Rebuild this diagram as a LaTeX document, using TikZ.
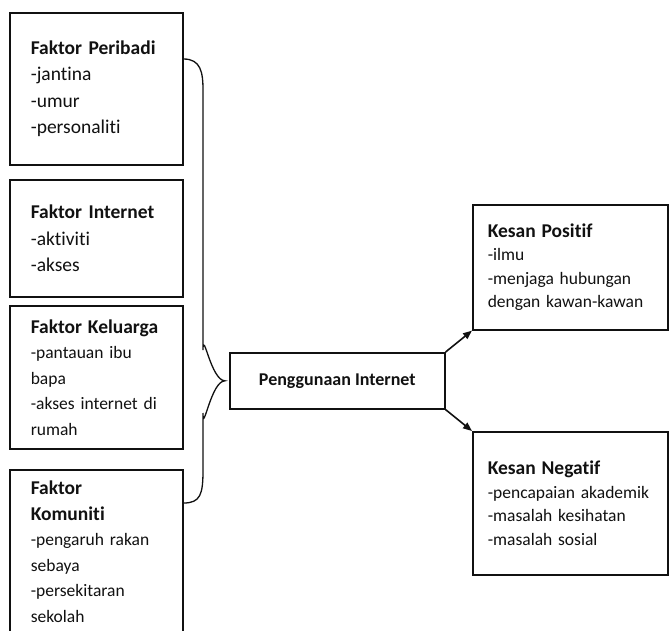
\documentclass[tikz,border=0pt]{standalone}
\usepackage{fontspec}
\setmainfont{Carlito}[Ligatures=NoCommon]
\usepackage{xcolor}
\usepackage{tikz}
\usetikzlibrary{arrows.meta,calc}
\definecolor{cLine}{HTML}{111111}
\definecolor{cText}{HTML}{111111}
\newcommand\judul[1]{\textbf{\fontsize{19.5}{24}\selectfont #1}}
\tikzset{
  kotak/.style={draw=cLine,fill=white,line width=1.6pt,text=cText,anchor=north west,
      inner ysep=0pt,align=left},
  faktor/.style={kotak,font=\fontsize{19.5}{26.5}\selectfont,
      text width=131pt,inner xsep=21pt},
  faktorkecil/.style={faktor,font=\fontsize{17.5}{25.5}\selectfont},
  kesan/.style={kotak,font=\fontsize{17.5}{23.5}\selectfont,
      text width=165pt,inner xsep=15pt},
  pusat/.style={kotak,font=\bfseries\fontsize{18}{22}\selectfont,align=center,
      minimum width=215pt,minimum height=56pt},
  kurung/.style={draw=cLine,line width=1.3pt},
  panah/.style={-{Triangle[length=9pt,width=7pt]},draw=cLine,line width=1.6pt},
}
\begin{document}
\begin{tikzpicture}[x=1pt,y=1pt]
  \useasboundingbox (0,0) rectangle (669,-630);
  \clip (0,0) rectangle (669,-630);

  % faktor-faktor
  \node[faktor,minimum height=152pt] (peribadi) at (9,-12)
   {\judul{Faktor Peribadi}\\-jantina\\-umur\\-personaliti};
  \node[faktor,minimum height=117pt] (internet) at (9,-179)
   {\judul{Faktor Internet}\\-aktiviti\\-akses};
  \node[faktorkecil,minimum height=143pt] (keluarga) at (9,-305)
   {\judul{Faktor Keluarga}\\-pantauan ibu\\bapa\\-akses internet di\\rumah};
  \node[faktorkecil,minimum height=164pt] (komuniti) at (9,-469)
   {\judul{Faktor}\\\judul{Komuniti}\\-pengaruh rakan\\sebaya\\-persekitaran\\sekolah};

  \node[pusat] (guna) at (229,-352) {Penggunaan Internet};

  % kesan
  \node[kesan,minimum height=125pt] (positif) at (472,-204)
   {\judul{Kesan Positif}\\-ilmu\\-menjaga hubungan\\dengan kawan-kawan};
  \node[kesan,minimum height=143pt] (negatif) at (472,-431)
   {\judul{Kesan Negatif}\\-pencapaian akademik\\-masalah kesihatan\\-masalah sosial};

  % kurungan
  \coordinate (kA) at (203,-90);
  \coordinate (kB) at (203,-350);
  \coordinate (kC) at (203,-413);
  \coordinate (kD) at (203,-470);
  \draw[kurung] ([yshift=-47pt]peribadi.north east) .. controls +(17,0) and +(0,18) .. (kA)
    -- (kB) .. controls +(0,22) and +(-14,0) .. ([xshift=-4pt]guna.west)
    .. controls +(-14,0) and +(0,-22) .. (kC)
    -- (kD) .. controls +(0,-24) and +(17,0) .. ([yshift=-34pt]komuniti.north east);

  \draw[panah] (guna.north east) -- (positif.south west);
  \draw[panah] (guna.south east) -- (negatif.north west);
\end{tikzpicture}
\end{document}
